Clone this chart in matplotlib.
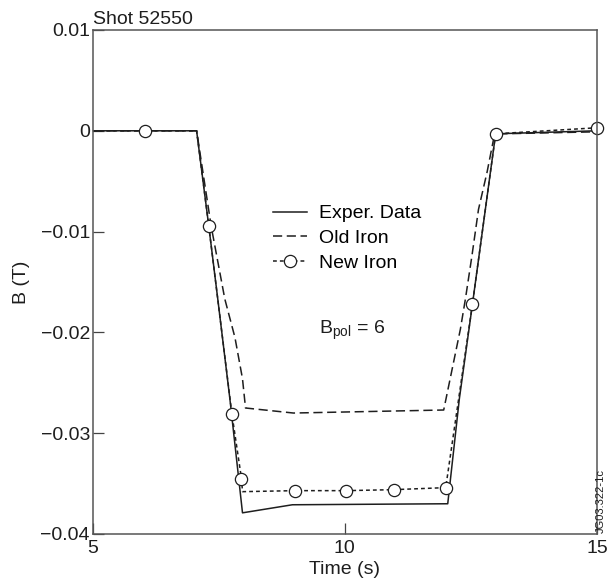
import matplotlib.pyplot as plt

plt.rcParams["font.family"] = ["Liberation Sans", "DejaVu Sans"]
plt.rcParams["mathtext.fontset"] = "custom"
plt.rcParams["mathtext.rm"] = "Liberation Sans"

# Experimental data (solid)
exp_t = [5.0, 7.06, 7.30, 7.48, 7.72, 7.97, 8.96, 12.04, 12.27, 12.53, 12.99, 15.0]
exp_b = [0.0, 0.0, -0.0094, -0.0167, -0.0266, -0.0379, -0.0371, -0.0370,
         -0.0266, -0.0172, -0.0003, 0.0]

# Old iron model (dashed)
old_t = [5.0, 7.06, 7.35, 7.62, 7.82, 7.97, 8.03, 8.98, 11.96, 12.29, 12.39,
         12.52, 12.65, 12.82, 12.95, 13.10, 15.0]
old_b = [0.0, 0.0, -0.0095, -0.0167, -0.0205, -0.0246, -0.0275, -0.0280,
         -0.0277, -0.0197, -0.0167, -0.0124, -0.0078, -0.0041, -0.0008,
         -0.0003, -0.0001]

# New iron model (dotted with circles)
new_t = [5.0, 6.04, 7.06, 7.30, 7.76, 7.95, 7.97, 9.01, 10.02, 10.98, 12.00,
         12.53, 12.99, 15.0]
new_b = [0.0, 0.0, 0.0, -0.0094, -0.0281, -0.0345, -0.0358, -0.0357, -0.0357,
         -0.0356, -0.0354, -0.0172, -0.0003, 0.0003]
new_marked = [1, 3, 4, 5, 7, 8, 9, 10, 11, 12, 13]

x_ticks = [5, 10, 15]
y_ticks = [0.01, 0.0, -0.01, -0.02, -0.03, -0.04]
y_labels = ["0.01", "0", "\u22120.01", "\u22120.02", "\u22120.03", "\u22120.04"]

ink = "#1e1e1e"

fig = plt.figure(figsize=(6.1, 5.81), dpi=100)
ax = fig.add_axes([0.152, 0.0809, 0.8267, 0.8675])

ax.plot(exp_t, exp_b, color=ink, lw=1.1, label="Exper. Data")
ax.plot(old_t, old_b, color=ink, lw=1.1, dashes=(6, 3), label="Old Iron")
ax.plot(new_t, new_b, color=ink, lw=1.1, dashes=(2.5, 2), marker="o",
        markevery=new_marked, ms=8.8, mfc="white", mec=ink, mew=0.9,
        clip_on=False, label="New Iron")

ax.set_xlim(5, 15)
ax.set_ylim(-0.04, 0.01)
ax.set_xticks(x_ticks)
ax.set_yticks(y_ticks)
ax.set_yticklabels(y_labels)
ax.tick_params(direction="in", length=8, width=0.9, labelsize=14,
               color="#444444", labelcolor=ink)
ax.tick_params(axis="y", pad=2)
ax.tick_params(axis="x", pad=4)
for s in ax.spines.values():
    s.set_color("#555555")
    s.set_linewidth(1.1)

ax.set_xlabel("Time (s)", fontsize=14, color=ink, va="center")
ax.xaxis.set_label_coords(0.5, -0.0714)
ax.set_ylabel("B (T)", fontsize=14, color=ink, ha="center", va="center")
ax.yaxis.set_label_coords(-0.142, 0.5)

ax.text(0.0, 1.004, "Shot 52550", transform=ax.transAxes, fontsize=14,
        color=ink, ha="left", va="bottom")
ax.text(0.4486, 0.405, "B$_{\\rm pol}$ = 6", transform=ax.transAxes,
        fontsize=14, color=ink, ha="left", va="center")
fig.text(0.9855, 0.083, "JG03.322-1c", rotation=90, fontsize=8,
         color=ink, ha="center", va="bottom")

ax.legend(loc="upper left", bbox_to_anchor=(0.3575, 0.653), frameon=False,
          fontsize=14, borderpad=0, borderaxespad=0, handlelength=1.75,
          handletextpad=0.6, labelspacing=0.36)

fig.savefig("out.png", dpi=100)
